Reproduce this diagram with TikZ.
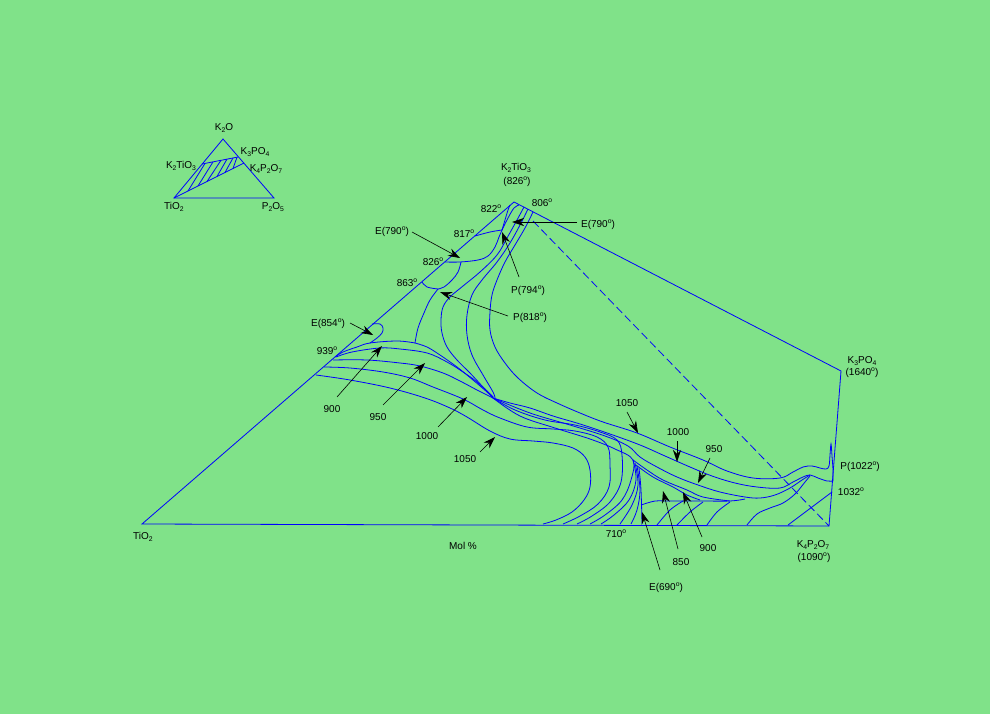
\documentclass[tikz,border=0pt]{standalone}
\usepackage{fontspec}
\setmainfont{Liberation Sans}
\usetikzlibrary{arrows.meta}
\definecolor{bg}{RGB}{128,226,137}
\definecolor{ln}{RGB}{0,0,255}
\newcommand{\sbs}[1]{\raisebox{-0.45ex}{\fontsize{6.8}{6.8}\selectfont #1}}
\newcommand{\dg}{\raisebox{0.8ex}{\fontsize{6.8}{6.8}\selectfont o}}
\tikzset{
 cl/.style={draw=ln, line width=0.8pt},
 cv/.style={draw=ln, line width=0.8pt},
 arr/.style={draw=black, line width=0.6pt, -{Stealth[length=12pt,width=8pt,inset=4pt]}},
 lbl/.style={font=\fontsize{10}{12}\selectfont, inner sep=0pt, text=black},
}
\begin{document}
\begin{tikzpicture}[x=1pt,y=-1pt]
\fill[bg] (0,0) rectangle (990,714);
\useasboundingbox (0,0) rectangle (990,714);

% ---------- inset ----------
\draw[cl] (174,198) -- (274,198) -- (223,139) -- cycle;
\draw[cl] (202,164) -- (238,157);
\draw[cl] (174,198) -- (244,163);
\foreach \a/\b/\c/\d in {188/191/205/163.4, 198/186/213/161.9, 207/181.5/221/160.3, 217/176.5/227/159.1, 225/172.5/233/158, 233/168.5/237/157.2}
  \draw[cl] (\a,\b) -- (\c,\d);
\node[lbl] (iK2O) at (224,128) {K\sbs{2}O};
\node[lbl] (iK3) at (255,152) {K\sbs{3}PO\sbs{4}};
\node[lbl] (iK4) at (266,169) {K\sbs{4}P\sbs{2}O\sbs{7}};
\node[lbl] (iK2T) at (181,166) {K\sbs{2}TiO\sbs{3}};
\node[lbl] (iTi) at (174,207) {TiO\sbs{2}};
\node[lbl] (iP) at (273,207) {P\sbs{2}O\sbs{5}};

% ---------- frame ----------
\draw[cl] (142,524) -- (514,202) -- (841,371) -- (829,526) -- cycle;
\draw[cl, dash pattern=on 8pt off 4pt] (533,221) -- (829,526);

% ---------- upper field boundaries ----------
\draw[cv] plot[smooth,tension=0.6] coordinates {(445,262) (460,262) (478,260) (488,256) (495,247) (499,237) (503,228) (508,218) (514,208) (519,205)};
\draw[cv] plot[smooth,tension=0.6] coordinates {(475,236) (490,232) (502,230)};
\draw[cv] plot[smooth,tension=0.6] coordinates {(502,230) (505,220) (508,210) (510,205)};
\draw[cv] plot[smooth,tension=0.6] coordinates {(422,282) (427,287) (438,289)};
\draw[cv] plot[smooth,tension=0.6] coordinates {(461,262) (458,272) (452,280) (444,287) (438,289)};
\draw[cv] plot[smooth,tension=0.6] coordinates {(438,289) (430,300) (424,313) (418,328) (415,343)};
\draw[cv] plot[smooth,tension=0.6] coordinates {(372,324) (380,324) (383,328) (382,333) (377,338) (370,343)};
\draw[cv] plot[smooth,tension=0.6] coordinates {(335,357) (343,352) (357,347) (370,343) (397,341) (415,343)};
\draw[cv] plot[smooth,tension=0.6] coordinates {(415,343) (427,347) (440,355) (457,367) (473,380) (487,392) (493,398)};

% ---------- curves from apex ----------
\draw[cv] plot[smooth,tension=0.6] coordinates {(524,207) (517,220) (507,238) (497,255) (480,272) (463,286) (450,297) (443,307) (441,320) (442,333) (447,347) (457,360) (470,373) (483,387) (493,397)};
\draw[cv] plot[smooth,tension=0.6] coordinates {(528,209) (520,225) (510,243) (497,262) (482,280) (472,295) (467,315) (467,335) (472,355) (483,375) (493,392) (495,398)};
\draw[cv] plot[smooth,tension=0.6] coordinates {(533,212) (525,228) (515,245) (505,262) (497,280) (492,295) (490,312) (490,330) (495,347) (505,363) (518,378) (537,393) (557,403) (580,413) (603,422) (637,433) (670,447) (703,460) (727,471) (753,478) (780,478) (793,472) (803,467) (812,466) (820,468) (826,469) (829,466) (830,455) (831,444) (832,456) (833,470) (833,481)};

% ---------- isotherms left ----------
\draw[cv] plot[smooth,tension=0.6] coordinates {(336,357) (352,352) (380,348) (400,349) (427,353) (447,362) (463,372) (477,382) (493,397)};
\draw[cv] plot[smooth,tension=0.6] coordinates {(333,360) (367,360) (400,363) (420,366) (443,373) (460,381) (477,390) (493,398)};
\draw[cv] plot[smooth,tension=0.6] coordinates {(324,367) (350,368) (383,372) (410,378) (433,387) (463,399) (483,410) (500,418) (527,427) (553,429) (575,431) (597,437) (608,447) (610,465) (609,487) (598,504) (580,516) (563,524)};
\draw[cv] plot[smooth,tension=0.6] coordinates {(316,375) (350,380) (390,388) (425,398) (450,408) (467,417) (490,431) (510,439) (533,441) (553,443) (573,448) (585,457) (590,470) (590,487) (584,500) (572,512) (556,520) (543,524)};

% ---------- right isotherms ----------
\draw[cv] plot[smooth,tension=0.6] coordinates {(493,398) (510,403) (530,408) (553,416) (580,424) (610,434) (640,445) (665,456) (690,467) (712,476) (735,483) (757,487) (780,488) (793,482) (803,477) (810,475) (818,478) (827,481) (833,481)};
\draw[cv] plot[smooth,tension=0.6] coordinates {(493,398) (515,410) (545,420) (575,425) (600,432) (617,440) (622,455) (621,482) (610,502) (592,516) (577,524)};
\draw[cv] plot[smooth,tension=0.6] coordinates {(493,398) (530,413) (570,425) (605,436) (628,446) (640,457) (657,467) (677,477) (698,485) (720,492) (745,497) (760,498) (775,495) (790,488) (802,480) (810,475)};
\draw[cv] plot[smooth,tension=0.6] coordinates {(493,398) (520,416) (555,428) (590,439) (615,449) (633,460) (631,480) (622,500) (605,515) (590,524)};

% fan from Q
\coordinate (Q) at (633,460);
\draw[cv] plot[smooth,tension=0.6] coordinates {(633,460) (636,480) (629,500) (614,515) (601,524)};
\draw[cv] plot[smooth,tension=0.6] coordinates {(635,463) (638,485) (632,505) (620,524)};
\draw[cv] plot[smooth,tension=0.6] coordinates {(637,466) (640,490) (637,510) (631,524)};
\draw[cv] plot[smooth,tension=0.6] coordinates {(639,468) (641,490) (642,524)};
\draw[cv] plot[smooth,tension=0.6] coordinates {(633,460) (647,470) (663,480) (687,490) (703,497) (730,501)};
\draw[cv] plot[smooth,tension=0.6] coordinates {(636,465) (653,477) (673,487) (687,495) (700,500)};
\draw[cv] plot[smooth,tension=0.6] coordinates {(641,505) (655,501) (667,501) (700,501) (730,501) (745,499)};
\draw[cv] plot[smooth,tension=0.6] coordinates {(657,525) (670,510) (683,501)};
\draw[cv] plot[smooth,tension=0.6] coordinates {(677,525) (690,512) (703,502)};
\draw[cv] plot[smooth,tension=0.6] coordinates {(707,525) (717,512) (730,502)};
\draw[cv] plot[smooth,tension=0.6] coordinates {(747,525) (757,514) (770,508) (783,503) (795,494) (805,482) (810,476)};
\draw[cv] (788,525) -- (832,492);

% ---------- labels ----------
\node[lbl] (nK2T) at (516,168) {K\sbs{2}TiO\sbs{3}};
\node[lbl] (nK2Tt) at (517,182) {(826\dg)};
\node[lbl] (n822) at (491,209) {822\dg};
\node[lbl] (n806) at (542,203) {806\dg};
\node[lbl] (nE790r) at (598,225) {E(790\dg)};
\node[lbl] (nE790l) at (392,232) {E(790\dg)};
\node[lbl] (n817) at (464,234) {817\dg};
\node[lbl] (n826) at (433,262) {826\dg};
\node[lbl] (n863) at (407,283) {863\dg};
\node[lbl] (nP794) at (528,291) {P(794\dg)};
\node[lbl] (nP818) at (530,318) {P(818\dg)};
\node[lbl] (nE854) at (328,324) {E(854\dg)};
\node[lbl] (n939) at (327,351) {939\dg};
\node[lbl] (n900a) at (332,409) {900};
\node[lbl] (n950a) at (378,417) {950};
\node[lbl] (n1000a) at (427,436) {1000};
\node[lbl] (n1050a) at (465,459) {1050};
\node[lbl] (n1050b) at (627,403) {1050};
\node[lbl] (n1000b) at (678,432) {1000};
\node[lbl] (n950b) at (714,449) {950};
\node[lbl] (n900b) at (708,548) {900};
\node[lbl] (n850) at (681,562) {850};
\node[lbl] (nE690) at (666,588) {E(690\dg)};
\node[lbl] (n710) at (616,534) {710\dg};
\node[lbl] (nK3) at (862,361) {K\sbs{3}PO\sbs{4}};
\node[lbl] (nK3t) at (862,373) {(1640\dg)};
\node[lbl] (nP1022) at (860,467) {P(1022\dg)};
\node[lbl] (n1032) at (851,492) {1032\dg};
\node[lbl] (nK4) at (813,545) {K\sbs{4}P\sbs{2}O\sbs{7}};
\node[lbl] (nK4t) at (814,558) {(1090\dg)};
\node[lbl] (nTi) at (143,537) {TiO\sbs{2}};
\node[lbl] (nMol) at (463,546) {Mol \%};

% ---------- arrows ----------
\coordinate (s1) at (577,222); \coordinate (t1) at (512,222);
\coordinate (s2) at (412,232); \coordinate (t2) at (460,258);
\coordinate (s3) at (519,277); \coordinate (t3) at (502,232);
\coordinate (s4) at (508,316); \coordinate (t4) at (440,292);
\coordinate (s5) at (350,323); \coordinate (t5) at (373,335);
\coordinate (s6) at (337,397); \coordinate (t6) at (382,346);
\coordinate (s7) at (383,405); \coordinate (t7) at (425,363);
\coordinate (s8) at (438,427); \coordinate (t8) at (467,397);
\coordinate (s9) at (480,452); \coordinate (t9) at (495,437);
\coordinate (s10) at (627,412); \coordinate (t10) at (638,433);
\coordinate (s11) at (677,441); \coordinate (t11) at (677,462);
\coordinate (s12) at (710,458); \coordinate (t12) at (698,483);
\coordinate (s13) at (702,537); \coordinate (t13) at (683,492);
\coordinate (s14) at (678,549); \coordinate (t14) at (663,491);
\coordinate (s15) at (660,570); \coordinate (t15) at (642,512);
\foreach \i in {1,...,15} \draw[arr] (s\i) -- (t\i);
\end{tikzpicture}
\end{document}
